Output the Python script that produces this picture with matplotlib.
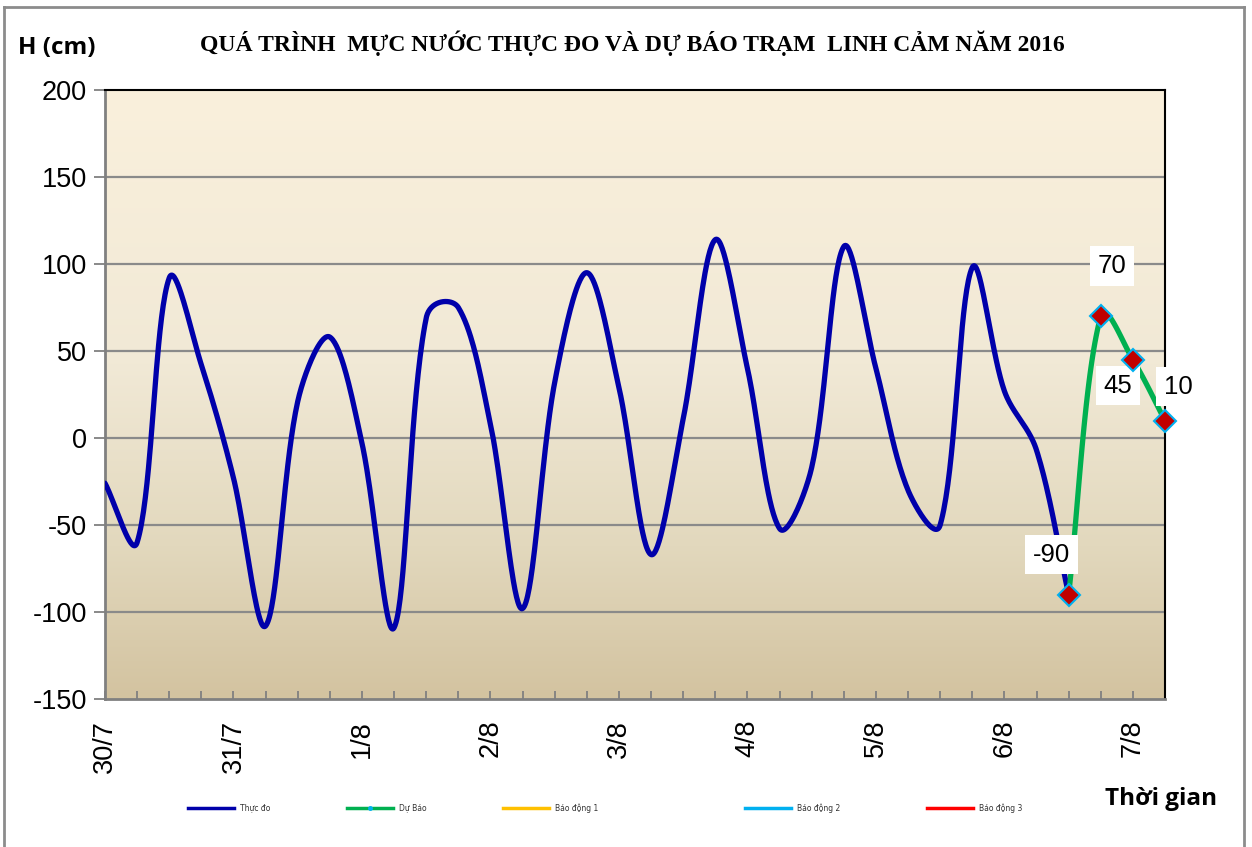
import numpy as np
import matplotlib
matplotlib.use("Agg")
import matplotlib.pyplot as plt
from matplotlib.lines import Line2D
from matplotlib.colors import LinearSegmentedColormap

# ---------------- data ----------------
day_labels = ["30/7", "31/7", "1/8", "2/8", "3/8", "4/8", "5/8", "6/8", "7/8"]
steps_per_day = 4
n_categories = 34

observed = [-26, -60, 92, 42, -23, -108, 21, 58, -3, -109,
            69, 75, 8, -98, 32, 95, 29, -67, 11, 114,
            40, -52, -17, 110, 40, -30, -50, 98, 27, -7, -90]
forecast_start = 30
forecast = [-90, 70, 45, 10]
forecast_labels = ["-90", "70", "45", "10"]

legend_names = ["Thực đo", "Dự Báo", "Báo động 1", "Báo động 2", "Báo động 3"]
legend_colors = ["#0000aa", "#00b050", "#ffc000", "#00b0f0", "#ff0000"]

title = "QUÁ TRÌNH  MỰC NƯỚC THỰC ĐO VÀ DỰ BÁO TRẠM  LINH CẢM NĂM 2016"
ylabel = "H (cm)"
xlabel = "Thời gian"

# ---------------- figure geometry ----------------
W, H = 1252, 847
left, right, top, bottom = 105, 1165, 90, 699
ymin, ymax = -150, 200
xmin, xmax = 0, n_categories - 1
px_x = (right - left) / (xmax - xmin)
px_y = (bottom - top) / (ymax - ymin)


def smooth(xs, ys, n=40, blend=0.8):
    """Excel-like smoothing: cubic Bezier whose control arms are weighted by
    neighbouring segment lengths (measured in screen pixels)."""
    P = np.column_stack([np.asarray(xs, float) * px_x, np.asarray(ys, float) * px_y])
    m = len(P)
    outs, ins = [], []
    for i in range(m):
        p0 = P[i - 1] if i > 0 else P[i]
        p2 = P[i + 1] if i < m - 1 else P[i]
        d01 = np.hypot(*(P[i] - p0))
        d12 = np.hypot(*(p2 - P[i]))
        tot = d01 + d12
        if tot == 0:
            outs.append(P[i]); ins.append(P[i]); continue
        tang = p2 - p0
        w_out = blend * d12 / tot + (1 - blend) * 0.5
        w_in = blend * d01 / tot + (1 - blend) * 0.5
        outs.append(P[i] + tang * w_out / 3.0)
        ins.append(P[i] - tang * w_in / 3.0)
    t = np.linspace(0, 1, n)[:, None]
    pts = []
    for i in range(m - 1):
        p1, c1, c2, p2 = P[i], outs[i], ins[i + 1], P[i + 1]
        b = (1 - t) ** 3 * p1 + 3 * (1 - t) ** 2 * t * c1 + 3 * (1 - t) * t ** 2 * c2 + t ** 3 * p2
        pts.append(b)
    pts = np.vstack(pts)
    return pts[:, 0] / px_x, pts[:, 1] / px_y


fig = plt.figure(figsize=(W / 100, H / 100), dpi=100)
fig.patch.set_facecolor("white")

# outer frame
frame_kw = dict(color="#8c8c8c", lw=2.0, transform=fig.transFigure)
fig.add_artist(Line2D([4 / W, 1244 / W], [1 - 7 / H, 1 - 7 / H], **frame_kw))
fig.add_artist(Line2D([4 / W, 4 / W], [0, 1 - 7 / H], **frame_kw))
fig.add_artist(Line2D([1244 / W, 1244 / W], [0, 1 - 7 / H], **frame_kw))

ax = fig.add_axes([left / W, 1 - bottom / H, (right - left) / W, (bottom - top) / H])
ax.set_xlim(xmin, xmax)
ax.set_ylim(ymin, ymax)

# gradient background
cmap = LinearSegmentedColormap.from_list(
    "bg", [(0.0, "#d3c3a0"), (0.25, "#e2d8bd"), (0.55, "#f1e9d6"), (1.0, "#faf0dc")])
grad = np.linspace(0, 1, 256).reshape(-1, 1)
ax.imshow(grad, cmap=cmap, aspect="auto", origin="lower",
          extent=[xmin, xmax, ymin, ymax], zorder=0)

# grid
yticks = np.arange(-150, 201, 50)
ax.set_yticks(yticks)
for yv in yticks[1:-1]:
    ax.axhline(yv, color="#8a8a8a", lw=1.6, zorder=1)

# observed line
xo = np.arange(len(observed))
sx, sy = smooth(xo, observed)
ax.plot(sx, sy, color="#0000aa", lw=3.8, solid_capstyle="round", zorder=3)

# forecast line
xf = np.arange(forecast_start, forecast_start + len(forecast))
fx, fy = smooth(xf, forecast)
ax.plot(fx, fy, color="#00b050", lw=3.8, solid_capstyle="round", zorder=4)
ax.plot(xf, forecast, ls="none", marker="D", ms=11, mfc="#c00000",
        mec="#00b0f0", mew=1.5, zorder=7, clip_on=False)

# data labels
offsets = [(-17, 40), (11, 50), (-15, -26), (13, 34)]
for x, y, lab, off in zip(xf, forecast, forecast_labels, offsets):
    ax.annotate(lab, (x, y), xytext=off, textcoords="offset pixels",
                ha="center", va="center", fontsize=18.5, family="Liberation Sans",
                bbox=dict(boxstyle="square,pad=0.3", fc="white", ec="none"),
                zorder=6, annotation_clip=False)

# axes styling
for s in ["top", "right"]:
    ax.spines[s].set_color("black")
    ax.spines[s].set_linewidth(1.5)
for s in ["left", "bottom"]:
    ax.spines[s].set_color("#808080")
    ax.spines[s].set_linewidth(2.0)

ax.set_xticks(np.arange(n_categories))
ax.set_xticklabels([day_labels[i // steps_per_day] if i % steps_per_day == 0 else ""
                    for i in range(n_categories)])
ax.tick_params(axis="x", direction="in", length=6, width=1.3, color="#808080",
               labelsize=19.5, labelrotation=90, pad=15)
ax.tick_params(axis="y", direction="out", length=8, width=1.3, color="#808080",
               labelsize=19.5, pad=5)
ax.set_yticklabels([str(v) for v in yticks])
for lab in ax.get_xticklabels() + ax.get_yticklabels():
    lab.set_family("Liberation Sans")

# titles
fig.text(632 / W, 1 - 43 / H, title, ha="center", va="center",
         family="Liberation Serif", weight="bold", fontsize=17)
fig.text(18 / W, 1 - 48 / H, ylabel, ha="left", va="center",
         family="Open Sans", weight="bold", fontsize=17.5)
fig.text(1217 / W, 1 - 799 / H, xlabel, ha="right", va="center",
         family="Open Sans", weight="bold", fontsize=17.5)

# legend entries, positioned individually
legend_x = [188, 347, 503, 745, 927]
for name, col, lx in zip(legend_names, legend_colors, legend_x):
    if name == "Dự Báo":
        h = Line2D([], [], color=col, lw=2.5, marker="o", ms=2.5, mfc="#00b0f0",
                   mec="#00b0f0", markevery=[1])
    else:
        h = Line2D([], [], color=col, lw=2.5)
    lg = fig.legend([h], [name], loc="center left",
                    bbox_to_anchor=(lx / W, 1 - 808 / H), frameon=False,
                    prop={"family": "DejaVu Sans", "size": 5.5},
                    handlelength=6.0, handletextpad=0.8,
                    borderpad=0, borderaxespad=0)
    for t in lg.get_texts():
        t.set_color("#333333")

fig.savefig("out.png", dpi=100)
